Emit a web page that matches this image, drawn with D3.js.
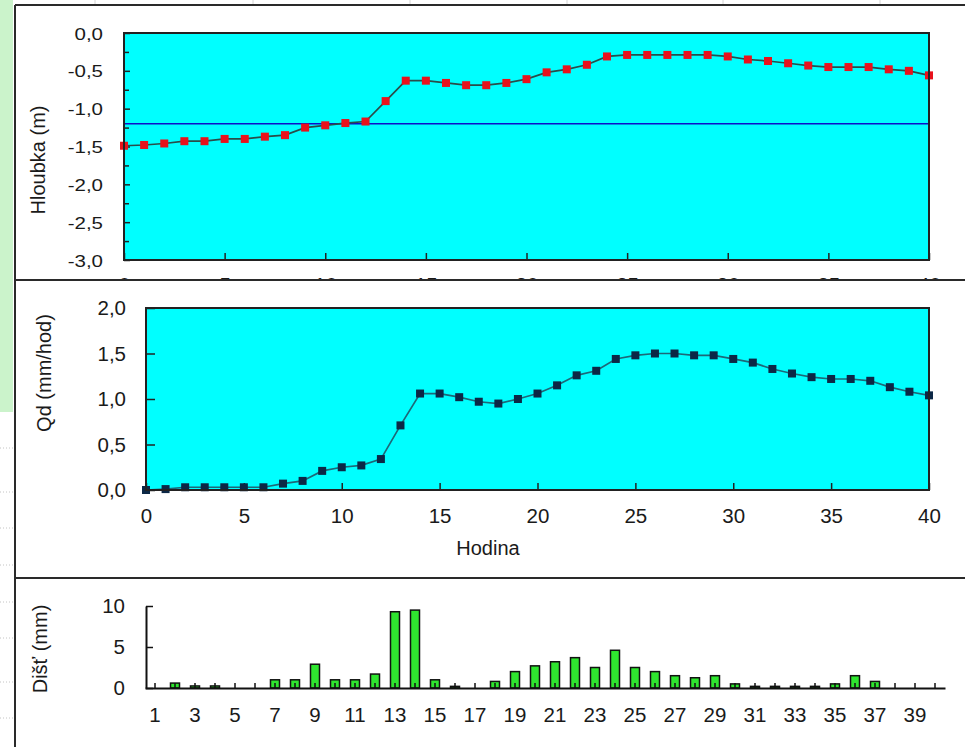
<!DOCTYPE html>
<html>
<head>
<meta charset="utf-8">
<script src="https://cdn.jsdelivr.net/npm/d3@7"></script>
<style>
  html, body { margin: 0; padding: 0; background: #fff; }
  svg { display: block; font-family: "Liberation Sans", Arial, sans-serif; }
</style>
</head>
<body>
<svg id="chart" width="965" height="747"></svg>
<script>
// Hour index shared by the depth and outflow series
const hours = [0,1,2,3,4,5,6,7,8,9,10,11,12,13,14,15,16,17,18,19,20,
               21,22,23,24,25,26,27,28,29,30,31,32,33,34,35,36,37,38,39,40];

// Groundwater depth (m)
const depth = [-1.49,-1.48,-1.46,-1.43,-1.43,-1.40,-1.40,-1.37,-1.35,-1.25,-1.22,
               -1.19,-1.17,-0.90,-0.63,-0.63,-0.66,-0.69,-0.69,-0.66,-0.61,
               -0.52,-0.48,-0.42,-0.31,-0.29,-0.29,-0.29,-0.29,-0.29,-0.31,
               -0.35,-0.37,-0.40,-0.43,-0.45,-0.45,-0.45,-0.48,-0.50,-0.56];

// Reference depth level (m)
const depthLevel = -1.2;

// Drain outflow Qd (mm/hod)
const outflow = [0.00,0.01,0.03,0.03,0.03,0.03,0.03,0.07,0.10,0.21,0.25,
                 0.27,0.34,0.71,1.06,1.06,1.02,0.97,0.95,1.00,1.06,
                 1.15,1.26,1.31,1.44,1.48,1.50,1.50,1.48,1.48,1.44,
                 1.40,1.33,1.28,1.24,1.22,1.22,1.20,1.13,1.08,1.04];

// Hourly rainfall (mm)
const rainHours = [1,2,3,4,5,6,7,8,9,10,11,12,13,14,15,16,17,18,19,20,
                   21,22,23,24,25,26,27,28,29,30,31,32,33,34,35,36,37,38,39,40];
const rain = [0,0.6,0.25,0.25,0,0,1.0,1.0,2.9,1.0,1.0,1.7,9.3,9.5,1.0,0.2,0,0.8,2.0,2.7,
              3.2,3.7,2.5,4.6,2.5,2.0,1.5,1.25,1.5,0.5,0.2,0.2,0.2,0.2,0.5,1.5,0.8,0,0,0];

// Tick values
const depthTicks = [0,-0.5,-1,-1.5,-2,-2.5,-3];
const depthMinor = [-0.25,-0.75,-1.25,-1.75,-2.25,-2.75];
const hourTicks = [0,5,10,15,20,25,30,35,40];
const outflowTicks = [0,0.5,1,1.5,2];
const rainTicks = [0,5,10];
const rainLabels = [1,3,5,7,9,11,13,15,17,19,21,23,25,27,29,31,33,35,37,39];

const svg = d3.select("#chart");
const fmt = d3.formatLocale({decimal: ",", thousands: " ", grouping: [3], currency: ["", ""], minus: "-"}).format(".1f");
const ink = "#1a1a1a";

// ---- sheet background details ----
svg.append("rect").attr("x", 0).attr("y", 0).attr("width", 13).attr("height", 412).attr("fill", "#cbf3cb");
[95, 253, 410, 567, 723, 880].forEach(x => {
  svg.append("line").attr("x1", x).attr("x2", x).attr("y1", 0).attr("y2", 5)
    .attr("stroke", "#d4d4d4").attr("stroke-width", 1);
});
[448, 492, 528, 565, 602, 638, 682, 718].forEach(y => {
  svg.append("line").attr("x1", 0).attr("x2", 14).attr("y1", y).attr("y2", y)
    .attr("stroke", "#c4c4c4").attr("stroke-dasharray", "1,2");
});
svg.append("line").attr("x1", 16).attr("x2", 965).attr("y1", 741).attr("y2", 741)
  .attr("stroke", "#cfcfcf").attr("stroke-dasharray", "1,3");

// ================= Panel 1: depth =================
const p1 = svg.append("g");
const xTop = d3.scaleLinear().domain([0, 40]).range([124, 929]);
const yTop = d3.scaleLinear().domain([-3, 0]).range([260, 33]);

p1.append("rect").attr("x", xTop(0)).attr("y", yTop(0))
  .attr("width", xTop(40) - xTop(0)).attr("height", yTop(-3) - yTop(0))
  .attr("fill", "#00ffff");

// reference level
p1.append("line").attr("x1", xTop(0)).attr("x2", xTop(40))
  .attr("y1", yTop(depthLevel)).attr("y2", yTop(depthLevel))
  .attr("stroke", "#1010c8").attr("stroke-width", 1.6);

// axes
const yAx1 = p1.append("g").attr("transform", `translate(${xTop(0)},0)`)
  .call(d3.axisLeft(yTop).tickValues(depthTicks).tickFormat(fmt).tickSizeInner(-6).tickSizeOuter(0).tickPadding(21));
const yAx1m = p1.append("g").attr("transform", `translate(${xTop(0)},0)`)
  .call(d3.axisLeft(yTop).tickValues(depthMinor).tickFormat("").tickSizeInner(-5).tickSizeOuter(0));
const xAx1 = p1.append("g").attr("transform", `translate(0,${yTop(-3)})`)
  .call(d3.axisBottom(xTop).tickValues(hourTicks).tickFormat(d3.format("d")).tickSizeInner(-7).tickSizeOuter(0).tickPadding(17));
[yAx1, yAx1m, xAx1].forEach(a => {
  a.select(".domain").remove();
  a.selectAll("line").attr("stroke", "#222").attr("stroke-width", 1.5);
  a.selectAll("text").attr("font-size", 20.5).attr("fill", ink).attr("font-family", null);
});
yAx1.selectAll("text").attr("transform", "scale(1,0.83)").attr("dy", "0.36em");

// series line + markers
p1.append("path").datum(hours)
  .attr("d", d3.line().x(h => xTop(h)).y((h, i) => yTop(depth[i])))
  .attr("fill", "none").attr("stroke", "#2a4d4a").attr("stroke-width", 1.7);
p1.selectAll("rect.mk").data(hours).join("rect").attr("class", "mk")
  .attr("x", h => xTop(h) - 4).attr("y", (h, i) => yTop(depth[i]) - 4)
  .attr("width", 8).attr("height", 8).attr("fill", "#e8121c");

p1.append("rect").attr("x", xTop(0)).attr("y", yTop(0))
  .attr("width", xTop(40) - xTop(0)).attr("height", yTop(-3) - yTop(0))
  .attr("fill", "none").attr("stroke", "#222").attr("stroke-width", 2);

p1.append("text").attr("transform", `translate(45,160) rotate(-90)`)
  .attr("text-anchor", "middle").attr("font-size", 20).attr("fill", ink)
  .text("Hloubka (m)");

// ================= Panel 2: outflow =================
const p2 = svg.append("g");
p2.append("rect").attr("x", 16).attr("y", 280).attr("width", 949).attr("height", 467).attr("fill", "#fff");

const xMid = d3.scaleLinear().domain([0, 40]).range([146, 929]);
const yMid = d3.scaleLinear().domain([0, 2]).range([490, 308]);

p2.append("rect").attr("x", xMid(0)).attr("y", yMid(2))
  .attr("width", xMid(40) - xMid(0)).attr("height", yMid(0) - yMid(2))
  .attr("fill", "#00ffff");

const yAx2 = p2.append("g").attr("transform", `translate(${xMid(0)},0)`)
  .call(d3.axisLeft(yMid).tickValues(outflowTicks).tickFormat(fmt).tickSizeInner(-9).tickSizeOuter(0).tickPadding(20));
const xAx2 = p2.append("g").attr("transform", `translate(0,${yMid(0)})`)
  .call(d3.axisBottom(xMid).tickValues(hourTicks).tickFormat(d3.format("d")).tickSizeInner(-7).tickSizeOuter(0).tickPadding(18));
[yAx2, xAx2].forEach(a => {
  a.select(".domain").remove();
  a.selectAll("line").attr("stroke", "#222").attr("stroke-width", 1.5);
  a.selectAll("text").attr("font-size", 20.5).attr("fill", ink).attr("font-family", null);
});

p2.append("path").datum(hours)
  .attr("d", d3.line().x(h => xMid(h)).y((h, i) => yMid(outflow[i])))
  .attr("fill", "none").attr("stroke", "#1d6878").attr("stroke-width", 1.7);
p2.selectAll("rect.mk").data(hours).join("rect").attr("class", "mk")
  .attr("x", h => xMid(h) - 4).attr("y", (h, i) => yMid(outflow[i]) - 4)
  .attr("width", 8).attr("height", 8).attr("fill", "#0c2846");

p2.append("rect").attr("x", xMid(0)).attr("y", yMid(2))
  .attr("width", xMid(40) - xMid(0)).attr("height", yMid(0) - yMid(2))
  .attr("fill", "none").attr("stroke", "#222").attr("stroke-width", 2);

p2.append("text").attr("transform", `translate(51,373) rotate(-90)`)
  .attr("text-anchor", "middle").attr("font-size", 20).attr("fill", ink)
  .text("Qd (mm/hod)");
p2.append("text").attr("x", 488).attr("y", 555)
  .attr("text-anchor", "middle").attr("font-size", 20).attr("fill", ink)
  .text("Hodina");

// ================= Panel 3: rainfall =================
const p3 = svg.append("g");
const xRain = d3.scaleBand().domain(rainHours).range([145, 945]).paddingInner(0.55).paddingOuter(0.275);
const yRain = d3.scaleLinear().domain([0, 10]).range([688, 606]);

p3.selectAll("rect.bar").data(rainHours).join("rect").attr("class", "bar")
  .attr("x", h => xRain(h)).attr("width", xRain.bandwidth())
  .attr("y", (h, i) => yRain(rain[i])).attr("height", (h, i) => yRain(0) - yRain(rain[i]))
  .attr("fill", "#2fe62f").attr("stroke", "#111").attr("stroke-width", 1.5);

const yAx3 = p3.append("g").attr("transform", `translate(146,0)`)
  .call(d3.axisLeft(yRain).tickValues(rainTicks).tickFormat(d3.format("d")).tickSizeInner(-7).tickSizeOuter(0).tickPadding(21));
const xAx3 = p3.append("g").attr("transform", `translate(0,${yRain(0)})`)
  .call(d3.axisBottom(xRain).tickFormat(h => rainLabels.includes(h) ? h : "").tickSizeInner(-5).tickSizeOuter(0).tickPadding(19));
[yAx3, xAx3].forEach(a => {
  a.select(".domain").attr("stroke", "#111").attr("stroke-width", 2);
  a.selectAll("line").attr("stroke", "#111").attr("stroke-width", 1.5);
  a.selectAll("text").attr("font-size", 20.5).attr("fill", ink).attr("font-family", null);
});

p3.append("text").attr("transform", `translate(47,649) rotate(-90)`)
  .attr("text-anchor", "middle").attr("font-size", 20).attr("fill", ink)
  .text("Dišť (mm)");

// ---- panel frames ----
const frame = svg.append("g").attr("stroke", "#2a2a2a").attr("stroke-width", 2);
frame.append("line").attr("x1", 15).attr("x2", 15).attr("y1", 5).attr("y2", 747);
frame.append("line").attr("x1", 15).attr("x2", 965).attr("y1", 5).attr("y2", 5);
frame.append("line").attr("x1", 15).attr("x2", 965).attr("y1", 280).attr("y2", 280);
frame.append("line").attr("x1", 15).attr("x2", 965).attr("y1", 578).attr("y2", 578);
</script>
</body>
</html>
